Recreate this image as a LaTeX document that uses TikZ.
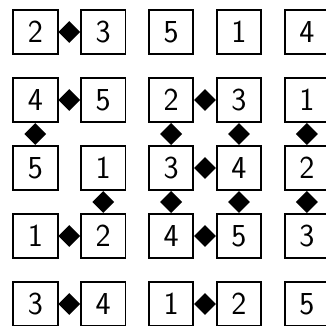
\documentclass[tikz,border=0pt]{standalone}
\usetikzlibrary{shapes.geometric}

\begin{document}
\begin{tikzpicture}[x=1pt, y=-1pt,
    cell/.style={draw, line width=1.9pt, minimum size=44.5pt, inner sep=0pt,
      font=\fontsize{32}{38}\selectfont\sffamily},
    joint/.style={diamond, fill=black, inner sep=0pt, minimum width=22pt, minimum height=22pt}]
  % 5x5 grid of numbered cells, diamonds mark the joined neighbours
  \useasboundingbox (0,0) rectangle (325,326);

  \def\xo{35.3} % centre of the first column
  \def\yo{32}   % centre of the first row
  \def\dx{67.9}
  \def\dy{68}

  % Row 1
  \node[cell] (n11) at (\xo+0*\dx, \yo+0*\dy) {2};
  \node[cell] (n12) at (\xo+1*\dx, \yo+0*\dy) {3};
  \node[cell] (n13) at (\xo+2*\dx, \yo+0*\dy) {5};
  \node[cell] (n14) at (\xo+3*\dx, \yo+0*\dy) {1};
  \node[cell] (n15) at (\xo+4*\dx, \yo+0*\dy) {4};

  % Row 2
  \node[cell] (n21) at (\xo+0*\dx, \yo+1*\dy) {4};
  \node[cell] (n22) at (\xo+1*\dx, \yo+1*\dy) {5};
  \node[cell] (n23) at (\xo+2*\dx, \yo+1*\dy) {2};
  \node[cell] (n24) at (\xo+3*\dx, \yo+1*\dy) {3};
  \node[cell] (n25) at (\xo+4*\dx, \yo+1*\dy) {1};

  % Row 3
  \node[cell] (n31) at (\xo+0*\dx, \yo+2*\dy) {5};
  \node[cell] (n32) at (\xo+1*\dx, \yo+2*\dy) {1};
  \node[cell] (n33) at (\xo+2*\dx, \yo+2*\dy) {3};
  \node[cell] (n34) at (\xo+3*\dx, \yo+2*\dy) {4};
  \node[cell] (n35) at (\xo+4*\dx, \yo+2*\dy) {2};

  % Row 4
  \node[cell] (n41) at (\xo+0*\dx, \yo+3*\dy) {1};
  \node[cell] (n42) at (\xo+1*\dx, \yo+3*\dy) {2};
  \node[cell] (n43) at (\xo+2*\dx, \yo+3*\dy) {4};
  \node[cell] (n44) at (\xo+3*\dx, \yo+3*\dy) {5};
  \node[cell] (n45) at (\xo+4*\dx, \yo+3*\dy) {3};

  % Row 5
  \node[cell] (n51) at (\xo+0*\dx, \yo+4*\dy) {3};
  \node[cell] (n52) at (\xo+1*\dx, \yo+4*\dy) {4};
  \node[cell] (n53) at (\xo+2*\dx, \yo+4*\dy) {1};
  \node[cell] (n54) at (\xo+3*\dx, \yo+4*\dy) {2};
  \node[cell] (n55) at (\xo+4*\dx, \yo+4*\dy) {5};

  % Horizontal joints
  \path (n11) -- node[joint] (h11) {} (n12);
  \path (n21) -- node[joint] (h21) {} (n22);
  \path (n23) -- node[joint] (h23) {} (n24);
  \path (n33) -- node[joint] (h33) {} (n34);
  \path (n41) -- node[joint] (h41) {} (n42);
  \path (n43) -- node[joint] (h43) {} (n44);
  \path (n51) -- node[joint] (h51) {} (n52);
  \path (n53) -- node[joint] (h53) {} (n54);

  % Vertical joints
  \path (n21) -- node[joint] (v21) {} (n31);
  \path (n23) -- node[joint] (v23) {} (n33);
  \path (n24) -- node[joint] (v24) {} (n34);
  \path (n25) -- node[joint] (v25) {} (n35);
  \path (n32) -- node[joint] (v32) {} (n42);
  \path (n33) -- node[joint] (v33) {} (n43);
  \path (n34) -- node[joint] (v34) {} (n44);
  \path (n35) -- node[joint] (v35) {} (n45);
\end{tikzpicture}
\end{document}
